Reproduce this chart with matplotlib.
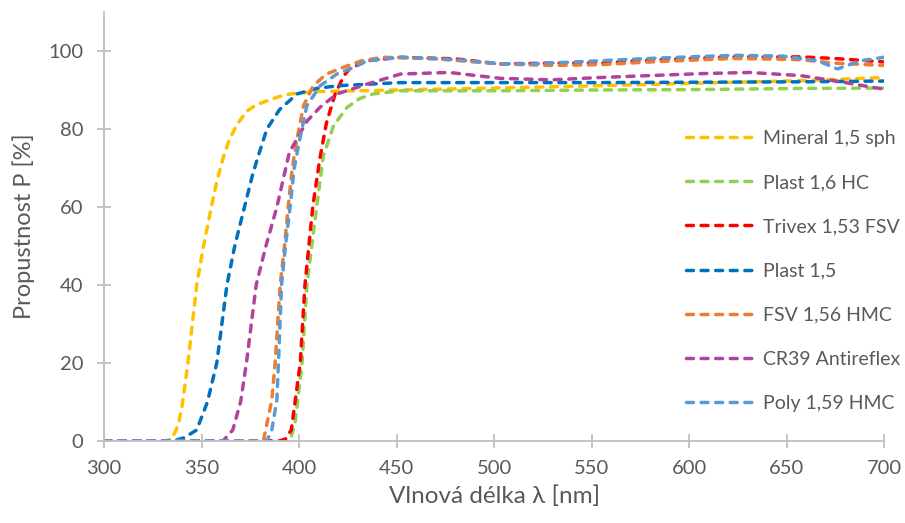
import matplotlib.pyplot as plt

plt.rcParams['font.family'] = ['Lato', 'DejaVu Sans']

# wavelength [nm] / transmittance [%]
mineral_x = [300, 320, 332, 335, 338, 340, 343, 347.5, 351, 355, 358, 361, 364, 368, 373, 378, 383.5, 389, 395.4, 409, 450, 500, 554, 600, 657, 700]
mineral_y = [0, 0, 0, 0.8, 4, 9, 20, 40, 50, 60, 67, 72.5, 77, 81, 84.5, 86.2, 87.2, 88.2, 89, 89.6, 90.0, 90.5, 91.1, 91.7, 92.4, 93.2]

plast16_x = [300, 350, 393, 396, 398, 401.5, 404, 406.5, 409, 412.4, 417.6, 424.5, 431, 438, 452, 500, 554, 600, 657, 700]
plast16_y = [0, 0, 0, 1, 5, 20, 40, 50, 60, 73, 80.8, 85.5, 87.8, 89, 89.8, 89.8, 90.0, 90.1, 90.4, 90.5]

trivex_x = [300, 350, 390, 393, 396, 400.6, 403, 405, 407, 410.5, 414, 418.5, 423, 426, 435, 452, 480, 503, 529, 555, 580, 623, 657, 674, 700]
trivex_y = [0, 0, 0, 0.5, 2.8, 20, 40, 50, 60, 72, 81.5, 89, 93.7, 95.5, 97.5, 98.4, 98.0, 96.7, 96.9, 96.9, 97.7, 98.5, 98.5, 98.1, 97.2]

plast15_x = [300, 320, 335.6, 341, 347.5, 353, 357.8, 363, 367, 372, 376, 379, 383.5, 390, 399, 409, 420, 452, 554, 657, 700]
plast15_y = [0, 0, 0, 0.8, 2.8, 10, 20, 40, 50, 60, 68, 73, 80, 85, 89, 90.4, 91.1, 91.9, 91.9, 92.1, 92.3]

fsv_x = [300, 350, 381.7, 386, 387.7, 390.3, 392.5, 394.4, 396.5, 398.9, 402.3, 407.3, 414, 422.6, 432, 443, 470, 503, 529, 555, 580, 623, 657, 674, 700]
fsv_y = [0, 0, 0, 10.5, 20, 40, 50, 60, 70, 77.4, 86, 91.1, 94.1, 95.8, 97.5, 98.4, 98.0, 96.7, 96.3, 96.5, 97.2, 98.1, 97.8, 96.9, 96.3]

cr39_x = [300, 340, 361, 366, 370, 373, 378, 383, 388.6, 395, 404, 410.8, 419.4, 434.8, 452, 477, 503, 529, 554, 580, 606, 631, 657, 674, 700]
cr39_y = [0, 0, 0, 2.8, 10, 20, 40, 50, 60, 74, 82, 85.6, 89, 91.5, 94.1, 94.5, 93.0, 92.6, 93.2, 93.7, 94.2, 94.5, 93.7, 92.4, 90.2]

poly_x = [300, 350, 383.5, 386, 388.6, 389.4, 391, 393, 395.4, 397.5, 400.6, 404, 410.8, 419.4, 426, 435, 452, 480, 503, 520, 554, 589, 623, 648, 666, 676, 688, 700]
poly_y = [0, 0, 0, 2.8, 10.5, 20, 40, 50, 60, 70, 78, 86, 91.1, 94.1, 95.4, 97.5, 98.4, 97.8, 96.7, 96.7, 97.5, 98.3, 98.9, 98.7, 97.5, 95.4, 97.5, 98.4]

series = [
    ("Mineral 1,5 sph", mineral_x, mineral_y, "#FFC000"),
    ("Plast 1,6 HC", plast16_x, plast16_y, "#92D050"),
    ("Trivex 1,53 FSV", trivex_x, trivex_y, "#FF0000"),
    ("Plast 1,5", plast15_x, plast15_y, "#0070C0"),
    ("FSV 1,56 HMC", fsv_x, fsv_y, "#ED7D31"),
    ("CR39 Antireflex", cr39_x, cr39_y, "#B0449C"),
    ("Poly 1,59 HMC", poly_x, poly_y, "#5B9BD5"),
]

fig = plt.figure(figsize=(9.05, 5.23), dpi=100)
ax = fig.add_axes([0.115, 0.157, 0.862, 0.82])

for name, xs, ys, col in series:
    ax.plot(xs, ys, color=col, lw=2.5, dashes=(2.0, 2.2), dash_capstyle='round',
            solid_joinstyle='round', label=name)

ax.set_xlim(300, 700)
ax.set_ylim(0, 110)
ax.set_xticks(range(300, 701, 50))
ax.set_yticks(range(0, 101, 20))

for s in ['top', 'right']:
    ax.spines[s].set_visible(False)
for s in ['left', 'bottom']:
    ax.spines[s].set_color('#BFBFBF')
    ax.spines[s].set_linewidth(1.3)
ax.tick_params(axis='both', direction='inout', length=9.5, width=1.3, color='#BFBFBF',
               labelcolor='#595959', labelsize=14.5)
ax.tick_params(axis='y', pad=10)
ax.tick_params(axis='x', pad=9)

ax.set_xlabel("Vlnová délka λ [nm]", fontsize=17.5, color='#595959', labelpad=6)
ax.set_ylabel("Propustnost P [%]", fontsize=17, color='#595959', labelpad=10)

ax.legend(loc='upper left', bbox_to_anchor=(0.747, 0.7706), bbox_transform=fig.transFigure,
          frameon=False, fontsize=14, handlelength=3.65, handletextpad=0.3,
          labelspacing=1.4, borderpad=0, labelcolor='#595959')

fig.savefig("out.png", dpi=100)
